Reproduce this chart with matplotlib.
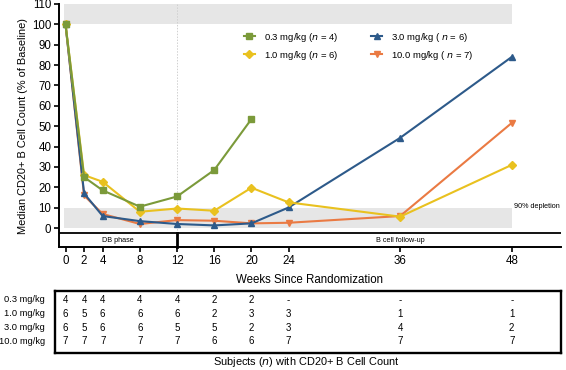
import matplotlib
matplotlib.use("Agg")
import matplotlib.pyplot as plt
from matplotlib.transforms import blended_transform_factory

plt.rcParams['font.family'] = ['Liberation Sans', 'DejaVu Sans']

weeks = [0, 2, 4, 8, 12, 16, 20, 24, 36, 48]
weeks_03 = [0, 2, 4, 8, 12, 16, 20]
vals_03 = [100, 25, 18.5, 10.5, 15.5, 28.5, 53.5]
vals_10 = [100, 26, 22.7, 8, 9.6, 8.5, 19.8, 12.6, 5.6, 31]
vals_30 = [100, 17, 5.9, 3.4, 2, 1.3, 2.3, 10.1, 44.3, 84]
vals_100 = [100, 16, 6.9, 2, 3.9, 3.6, 2.3, 2.6, 5.9, 51.6]

labels = ['0.3 mg/kg', '1.0 mg/kg', '3.0 mg/kg', '10.0 mg/kg']
legend_labels = ['0.3 mg/kg ($n$ = 4)', '1.0 mg/kg ($n$ = 6)',
                 '3.0 mg/kg ( $n$ = 6)', '10.0 mg/kg ( $n$ = 7)']
counts_03 = ['4', '4', '4', '4', '4', '2', '2', '-', '-', '-']
counts_10 = ['6', '5', '6', '6', '6', '2', '3', '3', '1', '1']
counts_30 = ['6', '5', '6', '6', '5', '5', '2', '3', '4', '2']
counts_100 = ['7', '7', '7', '7', '7', '6', '6', '7', '7', '7']

c_green = '#7b9a3a'
c_yellow = '#e9c11f'
c_blue = '#2d5a8a'
c_orange = '#ea7a43'

W, H = 566, 370
fig = plt.figure(figsize=(W / 100, H / 100), dpi=100)

def fx(px):
    return px / W

def fy(py):
    return 1 - py / H

ax_l, ax_r, ax_t, ax_b = 59, 561, 4, 247
ax = fig.add_axes([fx(ax_l), fy(ax_b), fx(ax_r - ax_l), (ax_b - ax_t) / H])
xmin, xmax = -0.7, 53.3
ymin, ymax = -9.3, 110
ax.set_xlim(xmin, xmax)
ax.set_ylim(ymin, ymax)

# gray bands
ax.fill_between([-0.2, 48], 100, 110, color='#e6e6e6', lw=0, zorder=0)
ax.fill_between([-0.2, 48], 0, 10, color='#e6e6e6', lw=0, zorder=0)
# phase band
ax.axhline(-2.5, color='black', lw=1.3, zorder=1)
ax.plot([12, 12], [ymin, -2.5], color='black', lw=2, zorder=1, clip_on=False)
ax.plot([12, 12], [-2.5, 110], color='#d0d0d0', lw=0.7, ls=(0, (1.5, 1.5)), zorder=0.5)
ax.text(5.6, -5.9, 'DB phase', fontsize=5.2, ha='center', va='center')
ax.text(36, -5.9, 'B cell follow-up', fontsize=5.2, ha='center', va='center')
ax.text(48.2, 10.4, '90% depletion', fontsize=5.2, ha='left', va='center')

kw = dict(lw=1.5, markersize=4.5, clip_on=False, zorder=3)
ax.plot(weeks, vals_100, color=c_orange, marker='v', label=legend_labels[3], **kw)
ax.plot(weeks, vals_30, color=c_blue, marker='^', label=legend_labels[2], **kw)
ax.plot(weeks, vals_10, color=c_yellow, marker='D', markersize=3.8, lw=1.5, clip_on=False, zorder=3, label=legend_labels[1])
ax.plot(weeks_03, vals_03, color=c_green, marker='s', label=legend_labels[0], **kw)

handles, labs = ax.get_legend_handles_labels()
order = [3, 2, 1, 0]
leg = ax.legend([handles[i] for i in order], [labs[i] for i in order], ncol=2,
                frameon=False, fontsize=6.8, loc='upper left',
                bbox_to_anchor=(fx(240), fy(27)), bbox_transform=fig.transFigure,
                handlelength=1.2, handletextpad=0.9, columnspacing=3.5,
                labelspacing=0.5, borderaxespad=0)

ax.spines['top'].set_visible(False)
ax.spines['right'].set_visible(False)
ax.spines['left'].set_linewidth(1.4)
ax.spines['bottom'].set_linewidth(1.4)
ax.set_yticks(range(0, 111, 10))
ax.set_xticks(weeks)
ax.tick_params(axis='both', labelsize=8.3, width=1.2, length=3.5, direction='out', pad=2)
ax.set_ylabel('Median CD20+ B Cell Count (% of Baseline)', fontsize=7.9)
ax.yaxis.set_label_coords((fx(28) - fx(ax_l)) / fx(ax_r - ax_l), 0.5)
ax.set_xlabel('Weeks Since Randomization', fontsize=8.3, labelpad=5)

# counts table
t_l, t_r, t_t, t_b = 55, 561, 291, 353
ax2 = fig.add_axes([fx(t_l), fy(t_b), fx(t_r - t_l), (t_b - t_t) / H])
ax2.set_xticks([])
ax2.set_yticks([])
for s in ax2.spines.values():
    s.set_linewidth(1.7)
tr = blended_transform_factory(ax.transData, ax2.transAxes)
rows = [counts_03, counts_10, counts_30, counts_100]
row_y = [0.86, 0.63, 0.41, 0.19]
for lab, cnts, yy in zip(labels, rows, row_y):
    fig.text(fx(45), fy(t_b) + yy * (t_b - t_t) / H, lab, fontsize=6.7,
             ha='right', va='center')
    for wk, c in zip(weeks, cnts):
        ax2.text(wk, yy, c, transform=tr, fontsize=7, ha='center', va='center')
fig.text(fx(306), fy(362), 'Subjects ($n$) with CD20+ B Cell Count', fontsize=7.9,
         ha='center', va='center')

fig.savefig('out.png', dpi=100)
